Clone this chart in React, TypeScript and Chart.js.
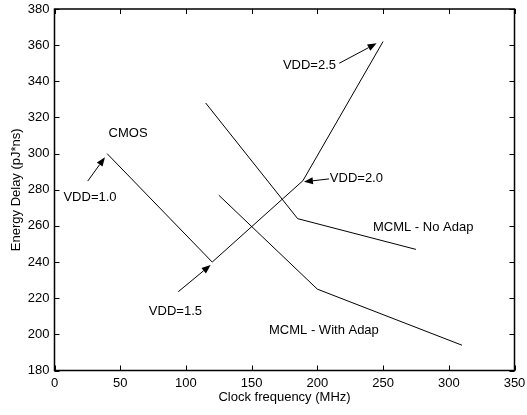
import React, { useEffect, useRef } from "react";
import { Chart, registerables } from "chart.js";

Chart.register(...registerables);

// Series data (Clock frequency MHz, Energy Delay pJ*ns)
const cmosX = [40, 120, 189, 250];
const cmosY = [300, 240, 285, 362];
const noAdapX = [115, 185, 275];
const noAdapY = [328, 264, 247];
const withAdapX = [125, 200, 310];
const withAdapY = [277, 225, 194];

// Axis ticks
const xTicks = [0, 50, 100, 150, 200, 250, 300, 350];
const yTicks = [180, 200, 220, 240, 260, 280, 300, 320, 340, 360, 380];

// Text labels
const labelTexts = ["CMOS", "VDD=1.0", "VDD=1.5", "VDD=2.0", "VDD=2.5", "MCML - No Adap", "MCML - With Adap"];
const labelX = [56, 27, 92, 209.5, 194, 280.5, 205];
const labelY = [311, 276, 212.5, 286, 349, 259, 202.4];
const labelAlign = ["center", "center", "center", "left", "center", "center", "center"];

// Arrows: tail (x,y) -> tip (x,y)
const arrowTailX = [25.3, 94.2, 208.9, 216.7];
const arrowTailY = [284.8, 223.6, 286, 350];
const arrowTipX = [38.4, 118.8, 189.8, 245.1];
const arrowTipY = [298, 238.4, 284.4, 361];

const FONT = "'Liberation Sans', Arial, Helvetica, sans-serif";
const FS = 13;

const toPts = (xs: number[], ys: number[]) => xs.map((x, i) => ({ x, y: ys[i] }));

const decorPlugin = {
  id: "decor",
  afterDraw(chart: any) {
    const { ctx, chartArea: a, scales } = chart;
    const xs = scales.x;
    const ys = scales.y;
    ctx.save();
    // frame
    ctx.strokeStyle = "#000";
    ctx.lineWidth = 1.5;
    ctx.strokeRect(a.left, a.top, a.right - a.left, a.bottom - a.top);
    // inward ticks
    ctx.lineWidth = 1;
    const tl = 5;
    ctx.beginPath();
    xTicks.forEach((v) => {
      const p = Math.round(xs.getPixelForValue(v)) + 0.5;
      ctx.moveTo(p, a.bottom);
      ctx.lineTo(p, a.bottom - tl);
      ctx.moveTo(p, a.top);
      ctx.lineTo(p, a.top + tl);
    });
    yTicks.forEach((v) => {
      const p = Math.round(ys.getPixelForValue(v)) + 0.5;
      ctx.moveTo(a.left, p);
      ctx.lineTo(a.left + tl, p);
      ctx.moveTo(a.right, p);
      ctx.lineTo(a.right - tl, p);
    });
    ctx.stroke();
    // arrows
    ctx.fillStyle = "#000";
    arrowTailX.forEach((tx, i) => {
      const x0 = xs.getPixelForValue(tx);
      const y0 = ys.getPixelForValue(arrowTailY[i]);
      const x1 = xs.getPixelForValue(arrowTipX[i]);
      const y1 = ys.getPixelForValue(arrowTipY[i]);
      const ang = Math.atan2(y1 - y0, x1 - x0);
      const hl = 9;
      const hw = 3.5;
      const bx = x1 - hl * Math.cos(ang);
      const by = y1 - hl * Math.sin(ang);
      ctx.beginPath();
      ctx.moveTo(x0, y0);
      ctx.lineTo(bx, by);
      ctx.stroke();
      ctx.beginPath();
      ctx.moveTo(x1, y1);
      ctx.lineTo(bx + hw * Math.sin(ang), by - hw * Math.cos(ang));
      ctx.lineTo(bx - hw * Math.sin(ang), by + hw * Math.cos(ang));
      ctx.closePath();
      ctx.fill();
    });
    // texts
    ctx.font = `${FS}px ${FONT}`;
    ctx.textBaseline = "middle";
    labelTexts.forEach((t, i) => {
      ctx.textAlign = labelAlign[i] as CanvasTextAlign;
      ctx.fillText(t, xs.getPixelForValue(labelX[i]), ys.getPixelForValue(labelY[i]));
    });
    ctx.restore();
  },
};

export default function App() {
  const ref = useRef<HTMLCanvasElement | null>(null);
  useEffect(() => {
    if (!ref.current) return;
    const lineDs = (pts: any[]) => ({
      data: pts,
      showLine: true,
      borderColor: "#000",
      backgroundColor: "#000",
      borderWidth: 1,
      pointRadius: 0,
      tension: 0,
    });
    const chart = new Chart(ref.current, {
      type: "scatter",
      data: {
        datasets: [
          lineDs(toPts(cmosX, cmosY)),
          lineDs(toPts(noAdapX, noAdapY)),
          lineDs(toPts(withAdapX, withAdapY)),
        ],
      },
      options: {
        animation: false,
        responsive: true,
        maintainAspectRatio: false,
        layout: { padding: 0 },
        plugins: { legend: { display: false }, tooltip: { enabled: false } },
        scales: {
          x: {
            type: "linear",
            min: 0,
            max: 350,
            afterBuildTicks: (s: any) => {
              s.ticks = xTicks.map((v) => ({ value: v }));
            },
            grid: { display: false, drawTicks: false },
            border: { display: false },
            ticks: { color: "#000", padding: 5, font: { family: FONT, size: FS }, maxRotation: 0 },
            title: {
              display: true,
              text: "Clock frequency (MHz)",
              color: "#000",
              font: { family: FONT, size: FS },
              padding: { top: 0, bottom: 10 },
            },
            afterFit: (s: any) => {
              s.height = 44.5;
              s.paddingLeft = 0;
              s.paddingRight = 12.5;
            },
          },
          y: {
            type: "linear",
            min: 180,
            max: 380,
            afterBuildTicks: (s: any) => {
              s.ticks = yTicks.map((v) => ({ value: v }));
            },
            grid: { display: false, drawTicks: false },
            border: { display: false },
            ticks: { color: "#000", padding: 5, font: { family: FONT, size: FS } },
            title: {
              display: true,
              text: "Energy Delay (pJ*ns)",
              color: "#000",
              font: { family: FONT, size: FS },
              padding: { top: 9, bottom: 0 },
            },
            afterFit: (s: any) => {
              s.width = 54.5;
              s.paddingTop = 9;
              s.paddingBottom = 0;
            },
          },
        },
      },
      plugins: [decorPlugin],
    } as any);
    return () => chart.destroy();
  }, []);
  return (
    <div style={{ position: "fixed", left: 0, top: 0, width: 527, height: 415, background: "#fff" }}>
      <canvas ref={ref} />
    </div>
  );
}
